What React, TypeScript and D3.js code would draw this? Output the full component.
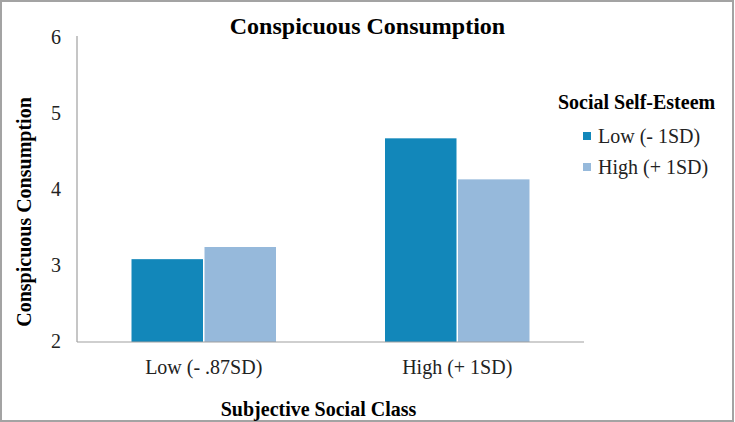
import React, { useRef, useEffect } from "react";
import * as d3 from "d3";

// categories on the x axis
const categories = ["Low (- .87SD)", "High (+ 1SD)"];
// series (legend) names
const series = ["Low (- 1SD)", "High (+ 1SD)"];
// values per series, in category order
const lowEsteem = [3.09, 4.68];
const highEsteem = [3.25, 4.14];
const yTicks = [2, 3, 4, 5, 6];

const colors = ["#1287BA", "#96B9DB"];

const App: React.FC = () => {
  const svgRef = useRef<SVGSVGElement>(null);

  useEffect(() => {
    if (!svgRef.current) return;
    const svg = d3.select(svgRef.current);
    svg.selectAll("*").remove();

    const width = 735;
    const height = 422;
    const font = "'Liberation Serif', 'Times New Roman', serif";
    const plot = { left: 77, right: 584, top: 38, bottom: 342 };

    svg
      .attr("width", width)
      .attr("height", height)
      .attr("viewBox", [0, 0, width, height])
      .style("font-family", font);

    // background + frame
    svg
      .append("rect")
      .attr("x", 1)
      .attr("y", 1)
      .attr("width", width - 3)
      .attr("height", height - 2)
      .attr("fill", "#fff")
      .attr("stroke", "#a3a3a3")
      .attr("stroke-width", 2);

    const y = d3
      .scaleLinear()
      .domain([2, 6])
      .range([plot.bottom, plot.top]);

    const x0 = d3
      .scaleBand<string>()
      .domain(categories)
      .range([plot.left, plot.right])
      .paddingInner(0.43)
      .paddingOuter(0.215);

    const x1 = d3
      .scaleBand<string>()
      .domain(series)
      .range([0, x0.bandwidth()]);

    const rows = categories.map((c, i) => ({
      category: c,
      values: [lowEsteem[i], highEsteem[i]],
    }));

    // bars
    const groups = svg
      .append("g")
      .selectAll("g")
      .data(rows)
      .join("g")
      .attr("transform", (d) => `translate(${x0(d.category)},0)`);

    groups
      .selectAll("rect")
      .data((d) => d.values.map((v, i) => ({ key: series[i], value: v, i })))
      .join("rect")
      .attr("x", (d) => (x1(d.key) ?? 0) + (d.i === 1 ? 0.75 : 0))
      .attr("width", x1.bandwidth() - 0.75)
      .attr("y", (d) => y(d.value))
      .attr("height", (d) => y(2) - y(d.value))
      .attr("fill", (d) => colors[d.i]);

    // axes lines
    svg
      .append("line")
      .attr("x1", plot.left)
      .attr("x2", plot.left)
      .attr("y1", plot.top - 2)
      .attr("y2", plot.bottom)
      .attr("stroke", "#a0a0a0")
      .attr("stroke-width", 1.2);
    svg
      .append("line")
      .attr("x1", plot.left)
      .attr("x2", plot.right)
      .attr("y1", plot.bottom)
      .attr("y2", plot.bottom)
      .attr("stroke", "#a0a0a0")
      .attr("stroke-width", 1.2);

    // y tick labels
    svg
      .append("g")
      .selectAll("text")
      .data(yTicks)
      .join("text")
      .attr("x", 61)
      .attr("y", (d) => y(d) + 6)
      .attr("text-anchor", "end")
      .attr("font-size", 20)
      .attr("fill", "#222")
      .text((d) => d);

    // x tick labels
    svg
      .append("g")
      .selectAll("text")
      .data(categories)
      .join("text")
      .attr("x", (d) => (x0(d) ?? 0) + x0.bandwidth() / 2)
      .attr("y", 374)
      .attr("text-anchor", "middle")
      .attr("font-size", 20)
      .attr("fill", "#222")
      .text((d) => d);

    // title
    svg
      .append("text")
      .attr("x", 367.5)
      .attr("y", 34)
      .attr("text-anchor", "middle")
      .attr("font-size", 24)
      .attr("font-weight", "bold")
      .text("Conspicuous Consumption");

    // axis titles
    svg
      .append("text")
      .attr("x", 318.5)
      .attr("y", 416)
      .attr("text-anchor", "middle")
      .attr("font-size", 20)
      .attr("font-weight", "bold")
      .text("Subjective Social Class");

    svg
      .append("text")
      .attr("transform", "translate(31,212) rotate(-90)")
      .attr("text-anchor", "middle")
      .attr("font-size", 20)
      .attr("font-weight", "bold")
      .text("Conspicuous Consumption");

    // legend
    svg
      .append("text")
      .attr("x", 558)
      .attr("y", 109)
      .attr("font-size", 20)
      .attr("font-weight", "bold")
      .text("Social Self-Esteem");

    const legend = svg
      .append("g")
      .selectAll("g")
      .data(series)
      .join("g")
      .attr("transform", (_, i) => `translate(583,${136 + i * 31})`);

    legend
      .append("rect")
      .attr("x", 0)
      .attr("y", -4)
      .attr("width", 8)
      .attr("height", 8)
      .attr("fill", (_, i) => colors[i]);

    legend
      .append("text")
      .attr("x", 15)
      .attr("y", 7)
      .attr("font-size", 20)
      .attr("fill", "#222")
      .text((d) => d);
  }, []);

  return (
    <svg
      ref={svgRef}
      style={{ position: "absolute", left: 0, top: 0, display: "block" }}
    />
  );
};

export default App;
